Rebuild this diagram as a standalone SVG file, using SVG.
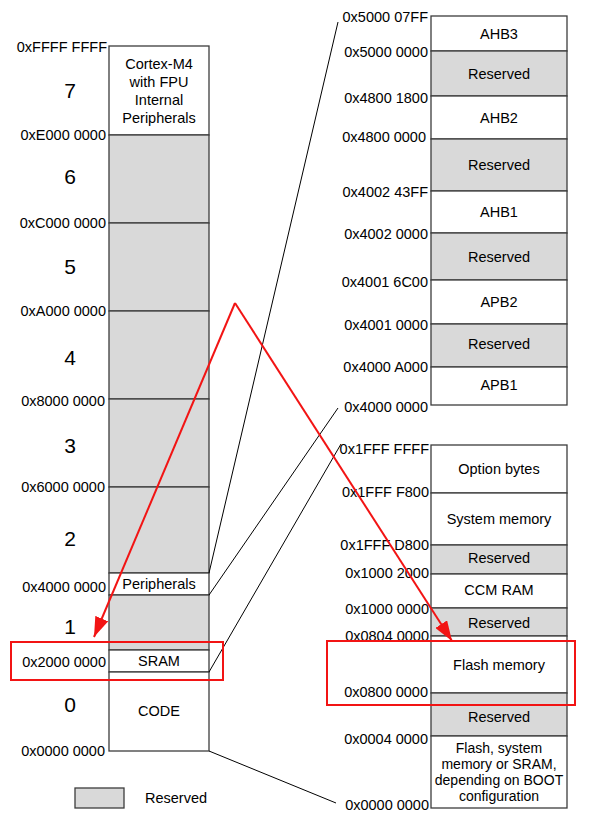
<svg xmlns="http://www.w3.org/2000/svg" width="592" height="825" viewBox="0 0 592 825">
<style>
text{font-family:"Liberation Sans",Arial,sans-serif;font-size:14.5px;fill:#000;dominant-baseline:central}
.a{text-anchor:end}
.c{text-anchor:middle}
.n{font-size:21px;text-anchor:middle}
.s{font-size:14px;text-anchor:middle}
.w{fill:#fff;stroke:#3c3c3c;stroke-width:1.3}
.g{fill:#d9d9d9;stroke:#3c3c3c;stroke-width:1.3}
.k{stroke:#000;stroke-width:1;fill:none}
.r{stroke:#f21414;stroke-width:2;fill:none}
</style>
<defs>
<marker id="ah" viewBox="0 0 10 7" refX="10" refY="3.5" markerWidth="10" markerHeight="7" orient="auto" markerUnits="strokeWidth">
<path d="M0,0 L10,3.5 L0,7 z" fill="#f21414"/>
</marker>
</defs>
<rect width="592" height="825" fill="#fff"/>

<g id="left-map">
<g id="r7"><rect class="w" x="109" y="46" width="100" height="89"/>
<text class="c" x="159" y="63.5">Cortex-M4</text><text class="c" x="159" y="81.5">with FPU</text><text class="c" x="159" y="99.5">Internal</text><text class="c" x="159" y="117.5">Peripherals</text></g>
<g id="r6"><rect class="g" x="109" y="135" width="100" height="88"/></g>
<g id="r5"><rect class="g" x="109" y="223" width="100" height="88"/></g>
<g id="r4"><rect class="g" x="109" y="311" width="100" height="88"/></g>
<g id="r3"><rect class="g" x="109" y="399" width="100" height="88"/></g>
<g id="r2"><rect class="g" x="109" y="487" width="100" height="86"/></g>
<g id="periph"><rect class="w" x="109" y="573" width="100" height="22"/><text class="c" x="159" y="584">Peripherals</text></g>
<g id="r1"><rect class="g" x="109" y="595" width="100" height="55"/></g>
<g id="sram"><rect class="w" x="109" y="650" width="100" height="22"/><text class="c" x="159" y="661">SRAM</text></g>
<g id="code"><rect class="w" x="109" y="672" width="100" height="79"/><text class="c" x="159" y="711">CODE</text></g>
</g>

<g id="left-labels">
<text class="a" x="107" y="47">0xFFFF FFFF</text>
<text class="a" x="106" y="135">0xE000 0000</text>
<text class="a" x="106" y="222.5">0xC000 0000</text>
<text class="a" x="106" y="310.5">0xA000 0000</text>
<text class="a" x="105" y="401">0x8000 0000</text>
<text class="a" x="105" y="487">0x6000 0000</text>
<text class="a" x="106" y="586.5">0x4000 0000</text>
<text class="a" x="106" y="661.5">0x2000 0000</text>
<text class="a" x="105" y="750.5">0x0000 0000</text>
<text class="n" x="70" y="90">7</text>
<text class="n" x="70" y="176">6</text>
<text class="n" x="70" y="266">5</text>
<text class="n" x="70" y="357">4</text>
<text class="n" x="70" y="445">3</text>
<text class="n" x="70" y="538">2</text>
<text class="n" x="70" y="626">1</text>
<text class="n" x="70" y="704">0</text>
</g>

<g id="periph-map">
<g id="ahb3"><rect class="w" x="431" y="16" width="136" height="35"/><text class="c" x="499" y="33.5">AHB3</text></g>
<g id="res-a"><rect class="g" x="431" y="51" width="136" height="45"/><text class="c" x="499" y="73.5">Reserved</text></g>
<g id="ahb2"><rect class="w" x="431" y="96" width="136" height="43"/><text class="c" x="499" y="117.5">AHB2</text></g>
<g id="res-b"><rect class="g" x="431" y="139" width="136" height="52"/><text class="c" x="499" y="165">Reserved</text></g>
<g id="ahb1"><rect class="w" x="431" y="191" width="136" height="42"/><text class="c" x="499" y="212">AHB1</text></g>
<g id="res-c"><rect class="g" x="431" y="233" width="136" height="47"/><text class="c" x="499" y="256.5">Reserved</text></g>
<g id="apb2"><rect class="w" x="431" y="280" width="136" height="44"/><text class="c" x="499" y="302">APB2</text></g>
<g id="res-d"><rect class="g" x="431" y="324" width="136" height="43"/><text class="c" x="499" y="344">Reserved</text></g>
<g id="apb1"><rect class="w" x="431" y="367" width="136" height="38"/><text class="c" x="499" y="385">APB1</text></g>
</g>

<g id="periph-labels">
<text class="a" x="428" y="17">0x5000 07FF</text>
<text class="a" x="428" y="51.5">0x5000 0000</text>
<text class="a" x="428" y="98">0x4800 1800</text>
<text class="a" x="426" y="137">0x4800 0000</text>
<text class="a" x="428" y="191.5">0x4002 43FF</text>
<text class="a" x="428" y="234">0x4002 0000</text>
<text class="a" x="428" y="281.5">0x4001 6C00</text>
<text class="a" x="428" y="325">0x4001 0000</text>
<text class="a" x="428" y="367">0x4000 A000</text>
<text class="a" x="428" y="406.5">0x4000 0000</text>
</g>

<g id="code-map">
<g id="optbytes"><rect class="w" x="431" y="445" width="136" height="48"/><text class="c" x="499" y="469">Option bytes</text></g>
<g id="sysmem"><rect class="w" x="431" y="493" width="136" height="52"/><text class="c" x="499" y="519">System memory</text></g>
<g id="res-e"><rect class="g" x="431" y="545" width="136" height="29"/><text class="c" x="499" y="558">Reserved</text></g>
<g id="ccm"><rect class="w" x="431" y="574" width="136" height="34"/><text class="c" x="499" y="590">CCM RAM</text></g>
<g id="res-f"><rect class="g" x="431" y="608" width="136" height="28"/><text class="c" x="499" y="622.5">Reserved</text></g>
<g id="flash"><rect class="w" x="431" y="636" width="136" height="57"/><text class="c" x="499" y="665">Flash memory</text></g>
<g id="res-g"><rect class="g" x="431" y="693" width="136" height="43"/><text class="c" x="499" y="717">Reserved</text></g>
<g id="boot"><rect class="w" x="431" y="736" width="136" height="72"/>
<text class="s" x="499" y="748">Flash, system</text><text class="s" x="499" y="764">memory or SRAM,</text><text class="s" x="499" y="780">depending on BOOT</text><text class="s" x="499" y="796">configuration</text></g>
</g>

<g id="code-labels">
<text class="a" x="429" y="449">0x1FFF FFFF</text>
<text class="a" x="429" y="492">0x1FFF F800</text>
<text class="a" x="429" y="545">0x1FFF D800</text>
<text class="a" x="429" y="573">0x1000 2000</text>
<text class="a" x="429" y="608.5">0x1000 0000</text>
<text class="a" x="429" y="636">0x0804 0000</text>
<text class="a" x="428" y="691.5">0x0800 0000</text>
<text class="a" x="428" y="738.5">0x0004 0000</text>
<text class="a" x="429" y="805">0x0000 0000</text>
</g>

<g id="connectors">
<line class="k" x1="209" y1="573" x2="338" y2="22"/>
<line class="k" x1="209" y1="595" x2="338" y2="408"/>
<line class="k" x1="209" y1="672" x2="341" y2="444"/>
<line class="k" x1="209" y1="751" x2="336" y2="803"/>
<rect class="r" x="11" y="642" width="212" height="38"/>
<rect class="r" x="327" y="641" width="248" height="64"/>
<line class="r" x1="235" y1="303" x2="94" y2="637" marker-end="url(#ah)"/>
<line class="r" x1="235" y1="303" x2="452" y2="641" marker-end="url(#ah)"/>
</g>

<g id="legend">
<rect class="g" x="75" y="788" width="49" height="20"/>
<text x="145" y="798">Reserved</text>
</g>
</svg>
